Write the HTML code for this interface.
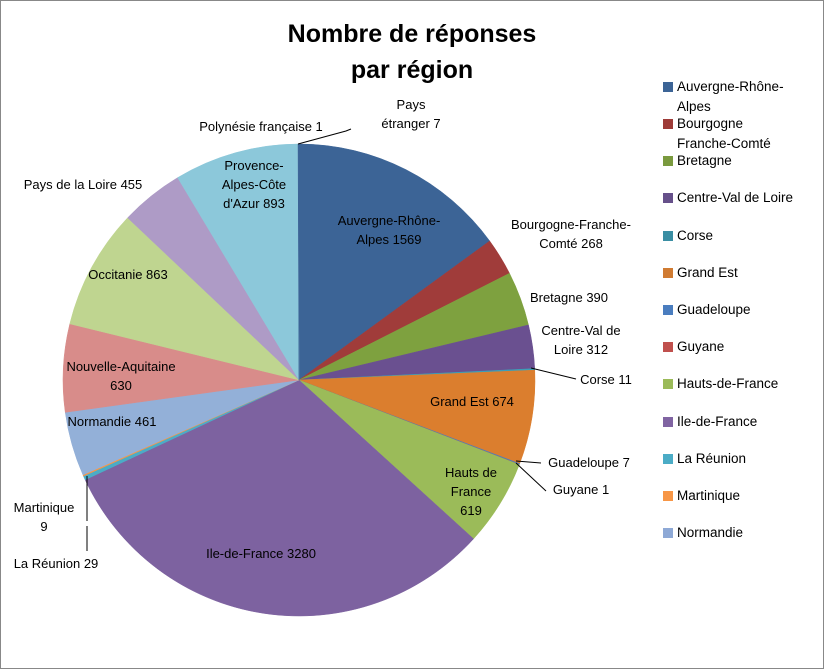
<!DOCTYPE html>
<html><head><meta charset="utf-8"><style>
body{margin:0;background:#fff;}
#c{position:relative;width:822px;height:667px;border:1px solid #888;overflow:hidden;font-family:"Liberation Sans",sans-serif;}
.t{position:absolute;font-size:13px;color:#000;white-space:nowrap;text-align:center;line-height:19px;}
.lg{position:absolute;left:676px;font-size:13.5px;line-height:20px;white-space:nowrap;}
.sq{position:absolute;left:662px;width:10px;height:10px;}
#title{position:absolute;left:250px;width:322px;top:15px;text-align:center;font-weight:bold;font-size:25px;line-height:36px;}
</style></head><body><div id="c">
<div id="title">Nombre de réponses<br>par région</div>
<svg id="pie" width="822" height="667" style="position:absolute;left:0;top:0"></svg>
<div class="t" style="left:360px;top:94px;width:100px;line-height:19px">Pays<br>étranger 7</div>
<div class="t" style="left:185px;top:116px;width:150px">Polynésie française 1</div>
<div class="t" style="left:203px;top:155px;width:100px">Provence-<br>Alpes-Côte<br>d'Azur 893</div>
<div class="t" style="left:318px;top:210px;width:140px">Auvergne-Rhône-<br>Alpes 1569</div>
<div class="t" style="left:495px;top:214px;width:150px">Bourgogne-Franche-<br>Comté 268</div>
<div class="t" style="left:518px;top:287px;width:100px">Bretagne 390</div>
<div class="t" style="left:525px;top:320px;width:110px">Centre-Val de<br>Loire 312</div>
<div class="t" style="left:565px;top:369px;width:80px">Corse 11</div>
<div class="t" style="left:420px;top:391px;width:102px">Grand Est 674</div>
<div class="t" style="left:538px;top:452px;width:100px">Guadeloupe 7</div>
<div class="t" style="left:540px;top:479px;width:80px">Guyane 1</div>
<div class="t" style="left:430px;top:462px;width:80px">Hauts de<br>France<br>619</div>
<div class="t" style="left:180px;top:543px;width:160px">Ile-de-France 3280</div>
<div class="t" style="left:0px;top:553px;width:110px">La Réunion 29</div>
<div class="t" style="left:0px;top:497px;width:86px">Martinique<br>9</div>
<div class="t" style="left:61px;top:411px;width:100px">Normandie 461</div>
<div class="t" style="left:60px;top:356px;width:120px">Nouvelle-Aquitaine<br>630</div>
<div class="t" style="left:77px;top:264px;width:100px">Occitanie 863</div>
<div class="t" style="left:12px;top:174px;width:140px">Pays de la Loire 455</div>

<div class="sq" style="top:81px;background:#3C6496"></div><div class="lg" style="top:76px">Auvergne-Rhône-<br>Alpes</div>
<div class="sq" style="top:118px;background:#9E3B38"></div><div class="lg" style="top:113px;height:36px;overflow:hidden">Bourgogne<br>Franche-Comté</div>
<div class="sq" style="top:155px;background:#7A9A3E"></div><div class="lg" style="top:150px">Bretagne</div>
<div class="sq" style="top:192px;background:#66508A"></div><div class="lg" style="top:187px">Centre-Val de Loire</div>
<div class="sq" style="top:230px;background:#3A8EA3"></div><div class="lg" style="top:225px">Corse</div>
<div class="sq" style="top:267px;background:#D07B32"></div><div class="lg" style="top:262px">Grand Est</div>
<div class="sq" style="top:304px;background:#4A7DBF"></div><div class="lg" style="top:299px">Guadeloupe</div>
<div class="sq" style="top:341px;background:#C0504D"></div><div class="lg" style="top:336px">Guyane</div>
<div class="sq" style="top:378px;background:#9BBB59"></div><div class="lg" style="top:373px">Hauts-de-France</div>
<div class="sq" style="top:416px;background:#8064A2"></div><div class="lg" style="top:411px">Ile-de-France</div>
<div class="sq" style="top:453px;background:#4BACC6"></div><div class="lg" style="top:448px">La Réunion</div>
<div class="sq" style="top:490px;background:#F79646"></div><div class="lg" style="top:485px">Martinique</div>
<div class="sq" style="top:527px;background:#8EA9D6"></div><div class="lg" style="top:522px">Normandie</div>
</div>
<script>
var d=[[1569,"#3C6496"],[268,"#A03C3A"],[390,"#7EA13F"],[312,"#6A5090"],[11,"#3B9FB8"],[674,"#DB7E2E"],[7,"#4A7DC0"],[1,"#C0504D"],[619,"#9BBB59"],[3280,"#7D62A0"],[29,"#4BACC6"],[9,"#F79646"],[461,"#93B0D8"],[630,"#D88C8A"],[863,"#BFD590"],[455,"#AE9BC6"],[893,"#8CC8DA"],[1,"#9BCBDB"],[7,"#3C6496"]];
var tot=0;d.forEach(function(x){tot+=x[0]});
var cx=298,cy=379,r=236,a=0,s="";
d.forEach(function(x){var a2=a+x[0]/tot*2*Math.PI;
var x1=cx+r*Math.sin(a),y1=cy-r*Math.cos(a),x2=cx+r*Math.sin(a2),y2=cy-r*Math.cos(a2);
s+='<path d="M'+cx+','+cy+'L'+x1.toFixed(2)+','+y1.toFixed(2)+'A'+r+','+r+' 0 '+((a2-a)>Math.PI?1:0)+' 1 '+x2.toFixed(2)+','+y2.toFixed(2)+'Z" fill="'+x[1]+'" stroke="'+x[1]+'" stroke-width="0.5"/>';a=a2;});
s+='<g stroke="#000" stroke-width="1" fill="none"><path d="M297,143 L345,130 L350,128"/><path d="M530,367 L575,378"/><path d="M515,460 L540,462"/><path d="M515,462 L545,490"/><path d="M86,475 L86,520"/><path d="M86,525 L86,550"/></g>';
document.getElementById("pie").innerHTML=s;
</script>
</body></html>
